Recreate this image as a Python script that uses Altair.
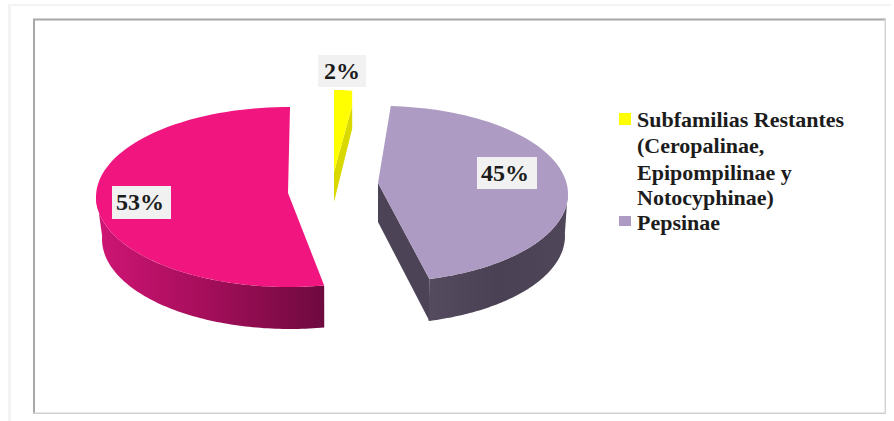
import numpy as np
import pandas as pd
import altair as alt

# Share of each slice, in percent
shares = [53, 2, 45]
share_labels = ["53%", "2%", "45%"]
legend_lines = [
    "Subfamilias Restantes",
    "(Ceropalinae,",
    "Epipompilinae y",
    "Notocyphinae)",
    "Pepsinae",
]

W, H = 894, 421
X = alt.Scale(domain=[0, W], nice=False, zero=False)
Y = alt.Scale(domain=[H, 0], nice=False, zero=False)


def polygon(points, fill):
    """Closed filled outline through the given points."""
    pts = list(points) + [points[0]]
    df = pd.DataFrame({"x": [p[0] for p in pts], "y": [p[1] for p in pts], "i": range(len(pts))})
    return alt.Chart(df).mark_line(fill=fill, stroke=None, strokeWidth=0, interpolate="linear").encode(
        x=alt.X("x:Q", scale=X, axis=None),
        y=alt.Y("y:Q", scale=Y, axis=None),
        order="i:Q",
    )


def rim(cx, cy, rx, ry, t0, t1, n=90):
    """Points on an ellipse; the angle runs counter-clockwise from the top, in degrees."""
    t = np.radians(np.linspace(t0, t1, n))
    return [(float(cx - rx * np.sin(a)), float(cy - ry * np.cos(a))) for a in t]


def h_gradient(stops):
    return alt.Gradient(
        gradient="linear", x1=0, y1=0, x2=1, y2=0,
        stops=[alt.GradientStop(offset=o, color=c) for o, c in stops],
    )


def rect(x0, x1, y0, y1, color):
    df = pd.DataFrame({"x": [x0], "x2": [x1], "y": [y0], "y2": [y1]})
    return alt.Chart(df).mark_rect(color=color).encode(
        x=alt.X("x:Q", scale=X, axis=None), x2="x2:Q",
        y=alt.Y("y:Q", scale=Y, axis=None), y2="y2:Q",
    )


def label(text, x, y, size=24, align="center"):
    df = pd.DataFrame({"x": [x], "y": [y], "t": [text]})
    return alt.Chart(df).mark_text(
        font="Liberation Serif", fontSize=size, fontWeight="bold", align=align,
        baseline="alphabetic", color="#1c1c1c",
    ).encode(
        x=alt.X("x:Q", scale=X, axis=None),
        y=alt.Y("y:Q", scale=Y, axis=None),
        text="t:N",
    )


# Angular extents of the slices, from the percentages
deg = [s * 3.6 for s in shares]
pink_t0 = -0.3
pink_t1 = pink_t0 + deg[0]
purple_t0 = 195.0
purple_t1 = purple_t0 + deg[2]
yellow_t1 = 360.0
yellow_t0 = yellow_t1 - deg[1]

layers = []

# Frames
layers += [
    rect(8, 11, 4, H, "#f3f3f3"),
    rect(8, 891, 4, 6, "#f3f3f3"),
    rect(33, 35, 19, 414, "#a8a8a8"),
    rect(33, 886, 18.5, 20.5, "#a8a8a8"),
    rect(884.5, 886, 19, 414, "#d4d4d4"),
    rect(33, 886, 412.5, 414, "#cfcfcf"),
]

# Pink slice
cx, cy, rx, ry, depth = 289, 197, 193, 90, 42
apex = (288, 193)
wall = rim(cx, cy, rx, ry, 88, pink_t1) + rim(cx + 1, cy + depth, rx - 5, ry, pink_t1, 88)
layers.append(polygon(wall, h_gradient([(0, "#cf1575"), (0.45, "#a80e5c"), (1, "#6e0a3f")])))
layers.append(polygon([apex] + rim(cx, cy, rx, ry, pink_t0, pink_t1), "#f1167f"))

# Purple slice
cx, cy, rx, ry, depth = 381, 194, 187, 88, 42
apex = (378, 183)
corner = rim(cx, cy, rx, ry, purple_t0, purple_t0, 1)[0]
inner = [apex, corner, (corner[0], corner[1] + depth), (apex[0], apex[1] + 39)]
layers.append(polygon(inner, "#4d4357"))
wall = rim(cx, cy, rx, ry, purple_t0, 272) + rim(cx, cy + depth, rx - 3, ry, 272, purple_t0)
layers.append(polygon(wall, h_gradient([(0, "#544b5e"), (0.5, "#4a4154"), (1, "#4f4659")])))
layers.append(polygon([apex] + rim(cx, cy, rx, ry, purple_t0, purple_t1), "#ae9bc3"))

# Yellow slice: the lit face runs down the right edge before the darker cut side
cx, cy, rx, ry, drop, depth = 334, 172, 145, 82, 15, 30
outer = rim(cx, cy, rx, ry, yellow_t0, yellow_t1, 6)
edge = outer[0]
layers.append(polygon(
    [(cx, cy), (edge[0], edge[1] + drop), (edge[0], edge[1] + drop + 23), (cx, cy + depth)],
    "#d9d900",
))
layers.append(polygon([(cx, cy), (edge[0], edge[1] + drop)] + outer, "#ffff00"))

# Value labels on light boxes
layers += [
    rect(112, 171, 186, 219, "#f1f1f1"), label(share_labels[0], 140, 210),
    rect(318, 366, 55, 87, "#f1f1f1"), label(share_labels[1], 342, 79),
    rect(477, 537, 157, 189, "#f1f1f1"), label(share_labels[2], 505, 181),
]

# Legend
layers += [
    rect(619, 631, 113, 125, "#ffff00"),
    rect(619, 631, 216, 226, "#ae9bc3"),
]
for line, base in zip(legend_lines, [127, 153, 180, 205, 230]):
    layers.append(label(line, 637, base, size=22, align="left"))

chart = alt.layer(*layers).properties(
    width=W, height=H, padding=0, autosize=alt.AutoSizeParams(type="none"), background="#ffffff",
).configure_view(stroke=None)

chart.save("out.html", embed_options={"renderer": "svg", "actions": False})
